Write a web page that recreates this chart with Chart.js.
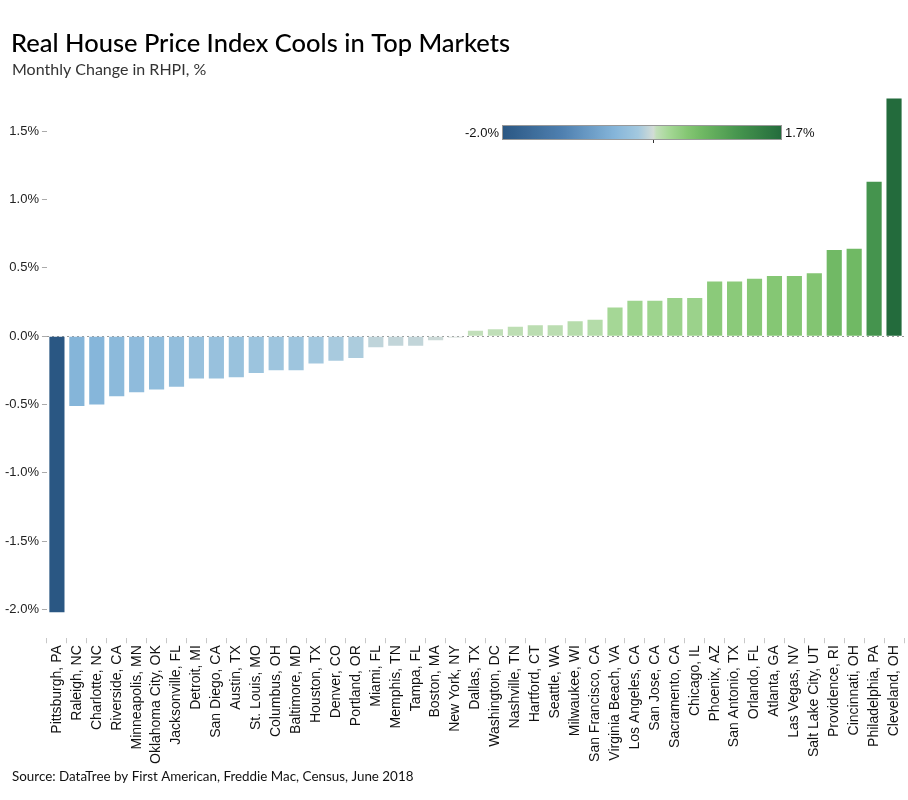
<!DOCTYPE html>
<html>
<head>
<meta charset="utf-8">
<script src="https://cdn.jsdelivr.net/npm/chart.js@4/dist/chart.umd.min.js"></script>
<style>
  html, body { margin: 0; padding: 0; background: #fff; }
  #wrap { width: 908px; height: 800px; position: relative; }
</style>
</head>
<body>
<div id="wrap"><canvas id="c" width="908" height="800"></canvas></div>
<script>
const categories = [
  "Pittsburgh, PA", "Raleigh, NC", "Charlotte, NC", "Riverside, CA", "Minneapolis, MN",
  "Oklahoma City, OK", "Jacksonville, FL", "Detroit, MI", "San Diego, CA", "Austin, TX",
  "St. Louis, MO", "Columbus, OH", "Baltimore, MD", "Houston, TX", "Denver, CO",
  "Portland, OR", "Miami, FL", "Memphis, TN", "Tampa, FL", "Boston, MA",
  "New York, NY", "Dallas, TX", "Washington, DC", "Nashville, TN", "Hartford, CT",
  "Seattle, WA", "Milwaukee, WI", "San Francisco, CA", "Virginia Beach, VA", "Los Angeles, CA",
  "San Jose, CA", "Sacramento, CA", "Chicago, IL", "Phoenix, AZ", "San Antonio, TX",
  "Orlando, FL", "Atlanta, GA", "Las Vegas, NV", "Salt Lake City, UT", "Providence, RI",
  "Cincinnati, OH", "Philadelphia, PA", "Cleveland, OH"
];
const rhpiChange = [
  -2.02, -0.51, -0.50, -0.44, -0.41,
  -0.39, -0.37, -0.31, -0.31, -0.30,
  -0.27, -0.25, -0.25, -0.20, -0.18,
  -0.16, -0.08, -0.07, -0.07, -0.03,
  -0.01, 0.04, 0.05, 0.07, 0.08,
  0.08, 0.11, 0.12, 0.21, 0.26,
  0.26, 0.28, 0.28, 0.40, 0.40,
  0.42, 0.44, 0.44, 0.46, 0.63,
  0.64, 1.13, 1.74
];
const yTickValues = [-2.0, -1.5, -1.0, -0.5, 0.0, 0.5, 1.0, 1.5];
const colorScaleMin = -2.0;
const colorScaleMax = 1.7;

// colour ramp (style), value -> colour
const rampStops = [
  [-2.0, "#2a5783"], [-1.2, "#4f80b0"], [-0.5, "#86b6da"], [-0.2, "#a3c8df"],
  [0.0, "#d2dcd6"], [0.04, "#c2dfba"], [0.2, "#a6d897"], [0.45, "#84c673"],
  [0.65, "#6fb863"], [1.12, "#46954e"], [1.7, "#236b3c"]
];
function hex2rgb(h) { return [1,3,5].map(i => parseInt(h.substr(i,2),16)); }
function rampColor(v) {
  if (v <= rampStops[0][0]) return rampStops[0][1];
  for (let i = 1; i < rampStops.length; i++) {
    if (v <= rampStops[i][0]) {
      const [v0, c0] = rampStops[i-1], [v1, c1] = rampStops[i];
      const t = (v - v0) / (v1 - v0);
      const a = hex2rgb(c0), b = hex2rgb(c1);
      return "rgb(" + a.map((x, k) => Math.round(x + (b[k]-x)*t)).join(",") + ")";
    }
  }
  return rampStops[rampStops.length-1][1];
}

const TITLE_FONT = "Lato, 'Open Sans', sans-serif";
const AXIS_FONT = "'Liberation Sans', Arial, sans-serif";

const decorPlugin = {
  id: "decor",
  afterDraw(chart) {
    const ctx = chart.ctx;
    ctx.save();
    ctx.fillStyle = "#000";
    ctx.textAlign = "left";
    ctx.textBaseline = "alphabetic";
    ctx.font = "500 25.5px " + TITLE_FONT;
    ctx.fillText("Real House Price Index Cools in Top Markets", 11, 52);
    ctx.fillStyle = "#333";
    ctx.font = "16px " + TITLE_FONT;
    ctx.fillText("Monthly Change in RHPI, %", 12, 75);
    ctx.fillStyle = "#111";
    ctx.font = "13.4px " + TITLE_FONT;
    ctx.fillText("Source: DataTree by First American, Freddie Mac, Census, June 2018", 12, 781);

    // colour legend bar
    const x0 = 502, x1 = 782, y0 = 125, h = 15;
    const g = ctx.createLinearGradient(x0, 0, x1, 0);
    for (let v = colorScaleMin; v <= colorScaleMax + 1e-9; v += 0.02) {
      g.addColorStop(Math.min(1, (v - colorScaleMin) / (colorScaleMax - colorScaleMin)), rampColor(v));
    }
    ctx.fillStyle = g;
    ctx.fillRect(x0, y0, x1 - x0, h);
    ctx.strokeStyle = "#999";
    ctx.lineWidth = 1;
    ctx.strokeRect(x0 + 0.5, y0 + 0.5, x1 - x0 - 1, h - 1);
    const zx = Math.round(x0 + (0 - colorScaleMin) / (colorScaleMax - colorScaleMin) * (x1 - x0)) + 0.5;
    ctx.strokeStyle = "#333";
    ctx.beginPath(); ctx.moveTo(zx, y0 + h); ctx.lineTo(zx, y0 + h + 3); ctx.stroke();
    ctx.fillStyle = "#111";
    ctx.font = "13px " + AXIS_FONT;
    ctx.textBaseline = "middle";
    ctx.textAlign = "right";
    ctx.fillText(colorScaleMin.toFixed(1) + "%", x0 - 3, y0 + h/2 + 1);
    ctx.textAlign = "left";
    ctx.fillText(colorScaleMax.toFixed(1) + "%", x1 + 3, y0 + h/2 + 1);
    ctx.restore();
  }
};

new Chart(document.getElementById("c"), {
  type: "bar",
  data: {
    labels: categories,
    datasets: [{
      data: rhpiChange,
      backgroundColor: rhpiChange.map(rampColor),
      borderWidth: 0,
      barPercentage: 0.76,
      categoryPercentage: 1.0
    }]
  },
  options: {
    responsive: false,
    animation: false,
    devicePixelRatio: 1,
    layout: { padding: { top: 95, left: 2, right: 4, bottom: 34 } },
    plugins: { legend: { display: false }, tooltip: { enabled: false } },
    scales: {
      x: {
        afterFit: (s) => { s.paddingRight = 0; s.paddingLeft = 0; },
        grid: { drawOnChartArea: false, offset: true, color: "#c8c8c8", tickLength: 5 },
        border: { display: false },
        ticks: {
          autoSkip: false, minRotation: 90, maxRotation: 90, padding: 2,
          color: "#111", font: { family: AXIS_FONT, size: 14 }
        }
      },
      y: {
        min: -2.21, max: 1.765,
        afterBuildTicks: (s) => { s.ticks = yTickValues.map(v => ({ value: v })); },
        grid: {
          color: (c) => (c.tick && Math.abs(c.tick.value) < 1e-9) ? "#9a9a9a" : "rgba(0,0,0,0)",
          tickColor: "#aaa", tickLength: 5, lineWidth: 1
        },
        border: { display: false, dash: [2, 3] },
        ticks: {
          padding: 3, color: "#222",
          font: { family: AXIS_FONT, size: 13 },
          callback: (v) => Number(v).toFixed(1) + "%"
        }
      }
    }
  },
  plugins: [decorPlugin]
});
</script>
</body>
</html>
